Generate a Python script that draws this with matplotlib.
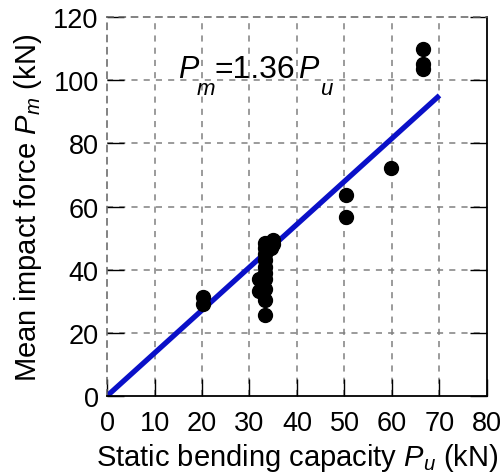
import numpy as np
import matplotlib.pyplot as plt

plt.rcParams['font.family'] = ['Liberation Sans', 'DejaVu Sans']
plt.rcParams['mathtext.fontset'] = 'custom'
plt.rcParams['mathtext.rm'] = 'Liberation Sans'
plt.rcParams['mathtext.it'] = 'Liberation Sans:italic'

# static bending capacity Pu (kN) and mean impact force Pm (kN)
pu = [20.2, 20.2,
      33.3, 33.3, 33.3, 33.3, 33.3, 33.3, 33.3, 33.3, 33.3, 33.3,
      32.0, 32.0, 35.0, 35.0, 34.5,
      50.3, 50.3, 59.7, 66.5, 66.5, 66.5]
pm = [31.3, 29.1,
      48.5, 47.0, 45.0, 43.0, 41.0, 39.0, 37.0, 34.0, 30.5, 25.6,
      37.0, 33.4, 49.5, 48.0, 47.0,
      63.6, 56.8, 72.2, 110.0, 105.0, 103.5]
slope = 1.36
fit_x = np.array([0, 70])

fig = plt.figure(figsize=(5.01, 4.77), dpi=100)
ax = fig.add_axes([0.2136, 0.1677, 0.7584, 0.7943])

for gx in range(10, 80, 10):
    ax.axvline(gx, color='#808080', ls=(0, (4, 4)), lw=1.1, zorder=0)
for gy in range(20, 120, 20):
    ax.axhline(gy, color='#808080', ls=(0, (4, 4)), lw=1.1, zorder=0)

ax.plot(fit_x, slope * fit_x, color='#0a10c8', lw=3.8, zorder=2, solid_capstyle='butt')
ax.scatter(pu, pm, s=100, color='black', zorder=3)

ax.set_xlim(0, 80)
ax.set_ylim(0, 120)
ax.set_xticks(range(0, 81, 10))
ax.set_yticks(range(0, 121, 20))
ax.tick_params(direction='in', length=12, width=1, right=True, labelsize=19.5)
ax.tick_params(axis='x', pad=10)
ax.tick_params(axis='y', pad=6)
for s in ['bottom', 'right']:
    ax.spines[s].set_linewidth(1.3)
for s in ['left', 'top']:
    ax.spines[s].set_color('#606060')
    ax.spines[s].set_linestyle((0, (4, 4)))
    ax.spines[s].set_linewidth(1.1)

ax.set_xlabel('Static bending capacity $P_u$ (kN)', fontsize=21, labelpad=4)
ax.set_ylabel('Mean impact force $P_m$ (kN)', fontsize=21, labelpad=7)

# annotation, subscripts set well below the baseline as in the original
ax.text(14.9, 101.0, 'P', fontsize=22, style='italic')
ax.text(18.9, 95.6, 'm', fontsize=16, style='italic')
ax.text(22.6, 101.0, '=1.36', fontsize=23)
ax.text(40.3, 101.0, 'P', fontsize=22, style='italic')
ax.text(44.8, 95.6, 'u', fontsize=16, style='italic')

plt.savefig('out.png', dpi=100)
